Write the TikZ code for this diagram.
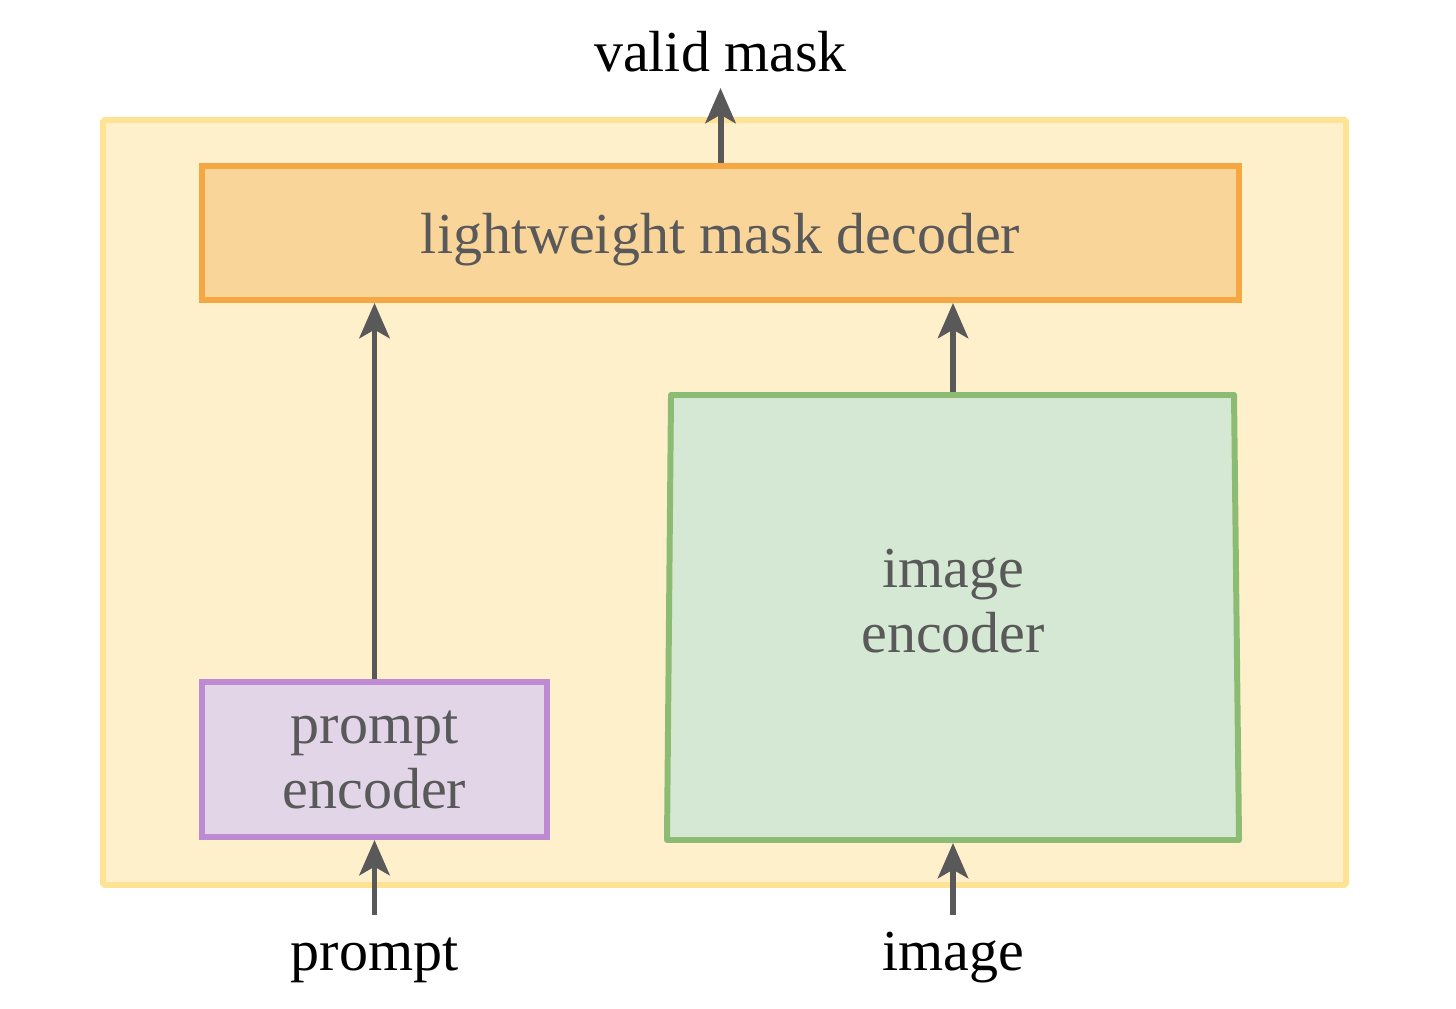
\documentclass[tikz,border=0pt]{standalone}
\usepackage{fontspec}
\setmainfont{Liberation Serif}
\usetikzlibrary{arrows.meta}

\definecolor{outerfill}{HTML}{FFF0CC}
\definecolor{outerline}{HTML}{FFE394}
\definecolor{decfill}{HTML}{FAD59A}
\definecolor{decline}{HTML}{F5A742}
\definecolor{penfill}{HTML}{E1D5E7}
\definecolor{penline}{HTML}{BE8BD2}
\definecolor{imgfill}{HTML}{D5E8D4}
\definecolor{imgline}{HTML}{8CBB73}
\definecolor{txtgray}{HTML}{595959}

\tikzset{
  block/.style={rectangle, line width=1.7pt, inner sep=0pt, text=txtgray,
    align=center, font=\fontsize{16.5}{18.5}\selectfont},
  flow/.style={line width=1.7pt, draw=txtgray,
    -{Stealth[length=10pt, width=8.6pt, inset=2.4pt]}},
  lbl/.style={font=\fontsize{16.5}{18.5}\selectfont, inner sep=0pt, anchor=base}
}

\begin{document}
\begin{tikzpicture}
    \useasboundingbox (0,0) rectangle (14.56,10.08);

    % frame round the model
    \draw[line width=1.7pt, draw=outerline, fill=outerfill, rounded corners=0.5pt]
      (1.03,1.23) rectangle (13.46,8.88);

    % blocks
    \node[block, draw=decline, fill=decfill, minimum width=10.37cm, minimum height=1.34cm,
      text depth=0pt] (dec) at (7.205,7.75) {lightweight mask decoder};
    \node[block, draw=penline, fill=penfill, minimum width=3.45cm, minimum height=1.55cm]
      (penc) at (3.745,2.485) {prompt\\encoder};

    \coordinate (I1) at (6.71,6.13);
    \coordinate (I2) at (12.34,6.13);
    \coordinate (I3) at (12.39,1.68);
    \coordinate (I4) at (6.67,1.68);
    \draw[line width=1.7pt, draw=imgline, fill=imgfill, line join=round]
      (I1) -- (I2) -- (I3) -- (I4) -- cycle;
    \node[block, minimum width=5.6cm, minimum height=4.45cm] (ienc) at (9.53,3.905) {};
    \node[block] (itext) at (9.53,4.07) {image\\encoder};

    % inputs and output
    \node[lbl] (out) at (7.205,9.36) {valid mask};
    \node[lbl] (pin) at (3.745,0.38) {prompt};
    \node[lbl] (iin) at (9.53,0.38) {image};
    \coordinate (outtip) at (7.205,9.20);
    \coordinate (pstart) at (3.745,0.93);
    \coordinate (istart) at (9.53,0.93);

    % connectors
    \draw[flow] (dec.north) -- (outtip);
    \draw[flow] (penc.north) -- (penc.north |- dec.south);
    \draw[flow] (ienc.north) -- (ienc.north |- dec.south);
    \draw[flow] (pstart) -- (penc.south);
    \draw[flow] (istart) -- (ienc.south);
\end{tikzpicture}
\end{document}
